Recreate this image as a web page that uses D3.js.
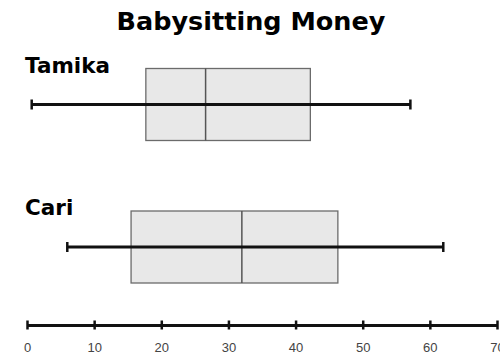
<!DOCTYPE html>
<html>
<head>
<meta charset="utf-8">
<script src="https://cdn.jsdelivr.net/npm/d3@7"></script>
<style>
    body { margin: 0; background: #fff; }
    svg { display: block; }
</style>
</head>
<body>
<div id="chart"></div>
<script>
// five-number summaries
const names = ["Tamika", "Cari"];
const mins = [0.7, 6];
const q1s = [17.7, 15.5];
const medians = [26.6, 32];
const q3s = [42.2, 46.3];
const maxs = [57.1, 62];
const tickValues = [0, 10, 20, 30, 40, 50, 60, 70];

document.addEventListener("DOMContentLoaded", draw)

function draw(){
    const width = 500;
    const height = 363;

    const svg = d3.select("#chart").append("svg")
        .attr("width", width)
        .attr("height", height);

    const x = d3.scaleLinear().domain([0, 70]).range([27, 497]);
    const y = d3.scalePoint().domain(names).range([104.5, 247]);
    const boxH = 72;

    svg.append("text")
        .attr("x", 251)
        .attr("y", 30)
        .attr("text-anchor", "middle")
        .style("font-family", "DejaVu Sans")
        .style("font-weight", "bold")
        .style("font-size", "25.5px")
        .text("Babysitting Money");

    const rows = names.map((n, i) => ({
        name: n, min: mins[i], q1: q1s[i], med: medians[i], q3: q3s[i], max: maxs[i]
    }));

    const g = svg.selectAll("g.row")
        .data(rows)
        .enter()
        .append("g")
        .attr("class", "row");

    g.append("text")
        .attr("x", 25)
        .attr("y", d => y(d.name) - 32)
        .style("font-family", "DejaVu Sans")
        .style("font-weight", "bold")
        .style("font-size", "21.5px")
        .text(d => d.name);

    g.append("rect")
        .attr("x", d => x(d.q1))
        .attr("y", d => y(d.name) - boxH / 2)
        .attr("width", d => x(d.q3) - x(d.q1))
        .attr("height", boxH)
        .attr("fill", "#e8e8e8")
        .attr("stroke", "#6b6b6b")
        .attr("stroke-width", 1.3);

    g.append("line")
        .attr("x1", d => x(d.med))
        .attr("x2", d => x(d.med))
        .attr("y1", d => y(d.name) - boxH / 2)
        .attr("y2", d => y(d.name) + boxH / 2)
        .attr("stroke", "#555")
        .attr("stroke-width", 1.5);

    // whisker line across the whole range
    g.append("line")
        .attr("x1", d => x(d.min))
        .attr("x2", d => x(d.max))
        .attr("y1", d => y(d.name))
        .attr("y2", d => y(d.name))
        .attr("stroke", "#111")
        .attr("stroke-width", 3);

    ["min", "max"].forEach(k => {
        g.append("line")
            .attr("x1", d => x(d[k]))
            .attr("x2", d => x(d[k]))
            .attr("y1", d => y(d.name) - 5)
            .attr("y2", d => y(d.name) + 5)
            .attr("stroke", "#111")
            .attr("stroke-width", 2.5);
    });

    const axis = svg.append("g")
        .attr("transform", "translate(0,325)")
        .call(d3.axisBottom(x).tickValues(tickValues).tickSizeOuter(0).tickFormat(d3.format("d")));

    axis.select(".domain")
        .attr("stroke", "#111")
        .attr("stroke-width", 3);
    axis.selectAll(".tick line")
        .attr("y1", -4.5)
        .attr("y2", 4.5)
        .attr("stroke", "#111")
        .attr("stroke-width", 2.5);
    axis.selectAll(".tick text")
        .attr("y", 27)
        .attr("dy", 0)
        .attr("fill", "#444")
        .style("font-family", "Liberation Sans")
        .style("font-size", "13px");
}
</script>
</body>
</html>
